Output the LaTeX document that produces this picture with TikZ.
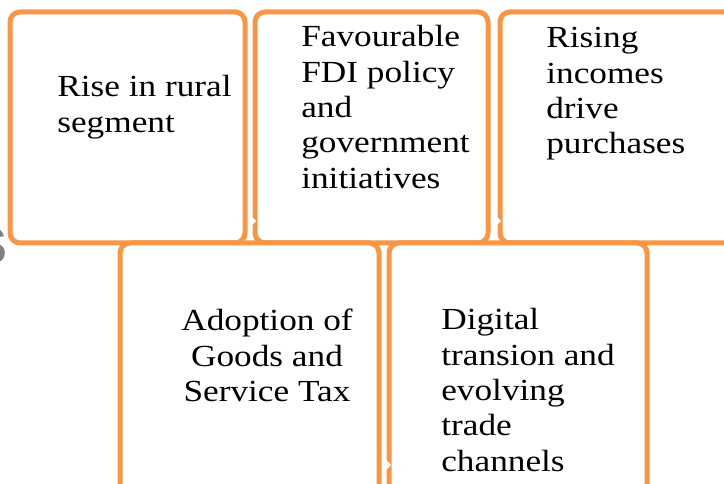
\documentclass[tikz,border=0pt]{standalone}
\usepackage{fontspec}
\setmainfont{Liberation Serif}
\setsansfont{Liberation Sans}
\usepackage{tikz}
\definecolor{boxorange}{HTML}{F79646}

\begin{document}
\begin{tikzpicture}[x=0.75pt, y=-0.75pt,
  box/.style ={draw=boxorange, line width=3.75pt, rounded corners=7.5pt,
    fill=white, inner sep=0pt},
  %
  blurb/.style ={inner sep=0pt, anchor=north west, align=left,
    font=\fontsize{23}{26.6}\selectfont, xscale=1.15, transform shape} ]

  \useasboundingbox (0,0) rectangle (724,484);

  % cut-off letter at the left edge
  \node [anchor=east, inner sep=0pt, text=gray,
    font=\sffamily\bfseries\fontsize{38}{38}\selectfont] (edge) at (8,246) {S};

  % top row
  \node [box, minimum width=176.25pt, minimum height=173.25pt] (rural) at (127.5,127.5) {};
  \node [box, minimum width=174.75pt, minimum height=173.25pt] (fdi) at (371.5,127.5) {};
  \node [box, minimum width=195pt, minimum height=173.25pt] (incomes) at (630,127.5) {};
  % bottom row
  \node [box, minimum width=194.25pt, minimum height=207.75pt] (gst) at (249.5,381.5) {};
  \node [box, minimum width=193.5pt, minimum height=207.75pt] (digital) at (518,381.5) {};

  % little white arrow heads between the boxes
  \fill [white] (249,214) -- (249,228) -- (256,221) -- cycle;
  \fill [white] (494,214) -- (494,228) -- (501,221) -- cycle;
  \fill [white] (384,458) -- (384,472) -- (391,465) -- cycle;

  \node [blurb] (ruraltxt) at (57,75) {Rise in rural\\segment};
  \node [blurb] (fditxt) at (301,25) {Favourable\\FDI policy\\and\\government\\initiatives};
  \node [blurb] (incomestxt) at (546,27) {Rising\\incomes\\drive\\purchases};
  \node [blurb, anchor=north, align=center] (gsttxt) at (267,309)
    {Adoption of\\Goods and\\Service Tax};
  \node [blurb] (digitaltxt) at (441,308)
    {Digital\\transion and\\evolving\\trade\\channels};

\end{tikzpicture}
\end{document}
